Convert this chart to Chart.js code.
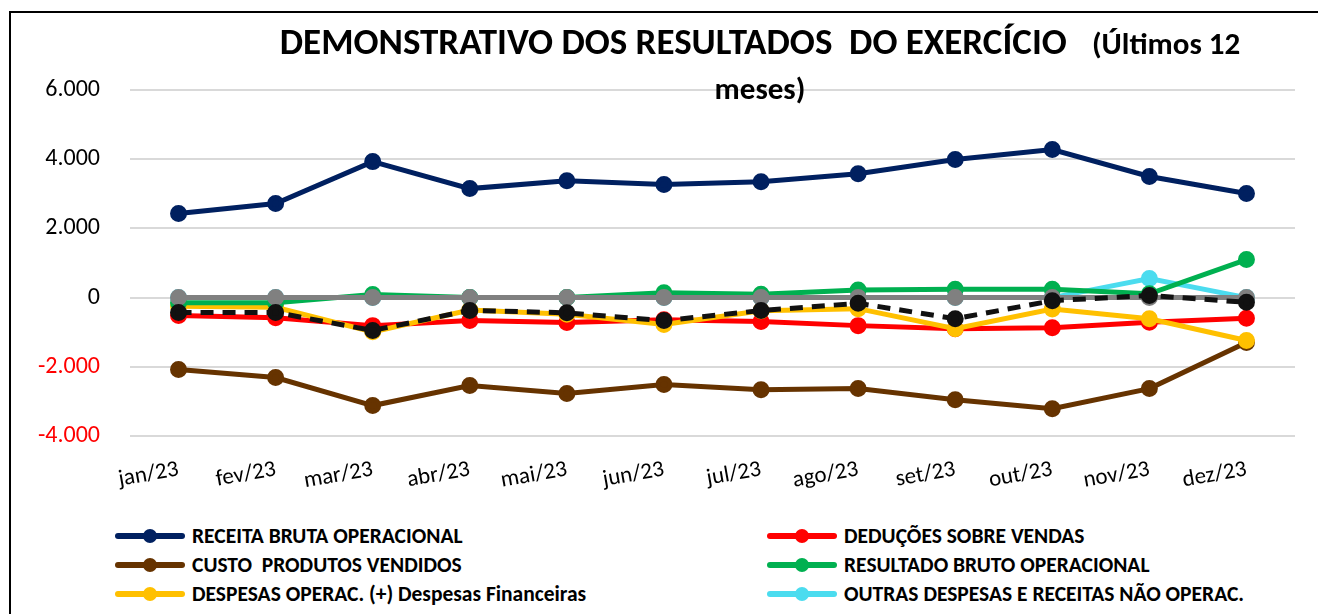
<!DOCTYPE html>
<html lang="pt-BR">
<head>
<meta charset="utf-8">
<script src="https://cdn.jsdelivr.net/npm/chart.js@4.4.1/dist/chart.umd.min.js"></script>
<style>
  html, body { margin: 0; padding: 0; background: #fff; overflow: hidden; }
  body { width: 1318px; height: 614px; position: relative; font-family: Carlito, Lato, "Open Sans", sans-serif; }
  #frame { position: absolute; left: 9px; top: 11px; width: 1400px; height: 700px;
           border-left: 2px solid #000; border-top: 2px solid #000; }
  #chartBox { position: absolute; left: 0; top: 0; }
  #title { position: absolute; left: 260px; top: 20px; width: 1000px; text-align: center;
           font-weight: bold; color: #000; font-size: 37px; line-height: 44px; white-space: nowrap; }
  #title .small { font-size: 31px; }
  #legend { position: absolute; left: 0; top: 522px; width: 1318px; }
  .item { position: absolute; display: flex; align-items: center; height: 28px;
          font-weight: bold; font-size: 21.5px; color: #000; white-space: pre; }
  .swatch { position: relative; width: 70px; height: 28px; margin-right: 7px; }
  .swatch .ln { position: absolute; left: 0; right: 0; top: 11px; height: 6px; border-radius: 3px; }
  .swatch .dt { position: absolute; left: 28px; top: 7px; width: 14px; height: 14px; border-radius: 50%; }
</style>
</head>
<body>
<div id="frame"></div>
<div id="chartBox"><canvas id="dre" width="1318" height="500"></canvas></div>
<div id="title">DEMONSTRATIVO DOS RESULTADOS&nbsp; DO EXERCÍCIO &nbsp;&nbsp;<span class="small">(Últimos 12</span><br><span class="small">meses)</span></div>
<div id="legend"></div>
<script>
// meses
const months = ['jan/23', 'fev/23', 'mar/23', 'abr/23', 'mai/23', 'jun/23', 'jul/23', 'ago/23', 'set/23', 'out/23', 'nov/23', 'dez/23'];

// valores
const receitaBruta = [2430, 2720, 3930, 3150, 3380, 3270, 3350, 3580, 3990, 4280, 3500, 3010];
const deducoes = [-520, -580, -810, -660, -720, -640, -690, -810, -900, -870, -710, -600];
const custoProdutos = [-2080, -2310, -3120, -2540, -2770, -2510, -2660, -2630, -2950, -3210, -2630, -1300];
const resultadoBruto = [-150, -150, 90, 0, 0, 140, 100, 220, 240, 240, 110, 1100];
const despesasOperac = [-250, -280, -990, -360, -480, -780, -380, -320, -900, -330, -610, -1240];
const outrasDespesas = [0, 0, 0, 0, 0, 0, 0, 0, 0, 0, 550, 0];
const linhaZero = [0, 0, 0, 0, 0, 0, 0, 0, 0, 0, 0, 0];
const resultadoLiquido = [-430, -430, -950, -370, -440, -665, -375, -165, -610, -90, 60, -135];

// eixo y
const yTicks = [-4000, -2000, 0, 2000, 4000, 6000];
const yTickLabels = ['-4.000', '-2.000', '0', '2.000', '4.000', '6.000'];

function serie(label, data, color, order, extra) {
  return Object.assign({
    label: label,
    data: data,
    borderColor: color,
    backgroundColor: color,
    pointBackgroundColor: color,
    pointBorderColor: color,
    borderWidth: 5,
    pointRadius: 6,
    pointHoverRadius: 6,
    tension: 0,
    order: order
  }, extra || {});
}

const datasets = [
  serie('RECEITA BRUTA OPERACIONAL', receitaBruta, '#002060', 6),
  serie('DEDUÇÕES SOBRE VENDAS', deducoes, '#FF0000', 5),
  serie('CUSTO  PRODUTOS VENDIDOS', custoProdutos, '#663300', 7),
  serie('RESULTADO BRUTO OPERACIONAL', resultadoBruto, '#00B050', 2),
  serie('DESPESAS OPERAC. (+) Despesas Financeiras', despesasOperac, '#FFC000', 4),
  serie('OUTRAS DESPESAS E RECEITAS NÃO OPERAC.', outrasDespesas, '#4BDCEF', 3),
  serie('ZERO', linhaZero, '#808080', 1, { hideInLegend: true }),
  serie('RESULTADO LÍQUIDO', resultadoLiquido, '#111111', 0, { borderDash: [13, 9], hideInLegend: true })
];

const ctx = document.getElementById('dre').getContext('2d');
const chart = new Chart(ctx, {
  type: 'line',
  data: { labels: months, datasets: datasets },
  options: {
    responsive: false,
    animation: false,
    layout: { padding: { top: 90, right: 23, left: 0, bottom: 0 } },
    plugins: {
      legend: { display: false },
      title: { display: false },
      tooltip: { enabled: false }
    },
    scales: {
      x: {
        offset: true,
        grid: { display: false },
        border: { display: false },
        ticks: {
          minRotation: 10,
          maxRotation: 10,
          padding: 12,
          color: '#000',
          font: { family: 'Carlito, Lato, "Open Sans", sans-serif', size: 23 }
        },
        afterFit: function (scale) { scale.height = 64; }
      },
      y: {
        min: -4000,
        max: 6000,
        afterBuildTicks: function (scale) {
          scale.ticks = yTicks.map(function (v) { return { value: v }; });
        },
        grid: { color: '#D9D9D9', lineWidth: 2, drawTicks: false },
        border: { display: false },
        ticks: {
          padding: 30,
          color: function (c) { return c.tick && c.tick.value < 0 ? '#FF0000' : '#000'; },
          font: { family: 'Carlito, Lato, "Open Sans", sans-serif', size: 24 },
          callback: function (value) { return yTickLabels[yTicks.indexOf(value)]; }
        },
        afterFit: function (scale) { scale.width = 130; }
      }
    }
  }
});

// legenda em duas colunas
function buildLegend() {
  const legend = document.getElementById('legend');
  const colX = [115, 767];
  let n = 0;
  chart.data.datasets.forEach(function (ds) {
    if (ds.hideInLegend) return;
    const item = document.createElement('div');
    item.className = 'item';
    item.style.left = colX[n % 2] + 'px';
    item.style.top = (Math.floor(n / 2) * 29) + 'px';
    item.innerHTML = '<div class="swatch"><div class="ln" style="background:' + ds.borderColor +
      '"></div><div class="dt" style="background:' + ds.borderColor + '"></div></div><span>' + ds.label + '</span>';
    legend.appendChild(item);
    n++;
  });
}
buildLegend();
</script>
</body>
</html>
